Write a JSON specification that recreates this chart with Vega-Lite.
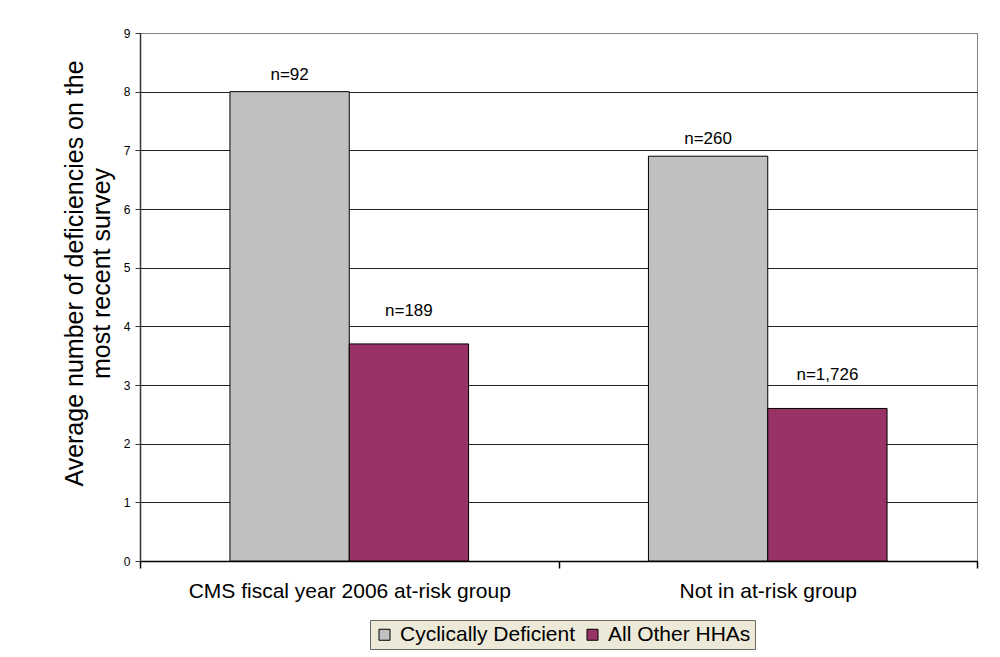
{
  "$schema": "https://vega.github.io/schema/vega-lite/v6.json",
  "width": 837,
  "height": 528,
  "autosize": {"type": "none"},
  "padding": {"left": 140, "top": 33, "right": 23, "bottom": 96},
  "background": "white",
  "config": {
    "font": "Liberation Sans",
    "view": {"stroke": "#808080", "strokeWidth": 1}
  },
  "data": {
    "values": [
      {"group": "CMS fiscal year 2006 at-risk group", "series": "Cyclically Deficient", "value": 8.0, "label": "n=92"},
      {"group": "CMS fiscal year 2006 at-risk group", "series": "All Other HHAs", "value": 3.7, "label": "n=189"},
      {"group": "Not in at-risk group", "series": "Cyclically Deficient", "value": 6.9, "label": "n=260"},
      {"group": "Not in at-risk group", "series": "All Other HHAs", "value": 2.6, "label": "n=1,726"}
    ]
  },
  "encoding": {
    "x": {
      "field": "group",
      "type": "nominal",
      "sort": null,
      "scale": {"paddingInner": 0, "paddingOuter": 0},
      "axis": {
        "title": null,
        "labelAngle": 0,
        "labelFontSize": 21,
        "labelLimit": 0,
        "labelColor": "#000000",
        "labelPadding": 12,
        "tickBand": "extent",
        "tickSize": 7,
        "tickColor": "#000000",
        "tickWidth": 1.5,
        "domainColor": "#000000",
        "domainWidth": 1.5,
        "grid": false
      }
    },
    "xOffset": {
      "field": "series",
      "type": "nominal",
      "sort": ["Cyclically Deficient", "All Other HHAs"],
      "scale": {"paddingInner": 0, "paddingOuter": 0.754}
    },
    "y": {
      "field": "value",
      "type": "quantitative",
      "scale": {"domain": [0, 9], "nice": false},
      "axis": {
        "title": ["Average number of deficiencies on the", "most recent survey"],
        "titleFontSize": 25,
        "titleFontWeight": "normal",
        "titleColor": "#000000",
        "titleLineHeight": 27,
        "titleBaseline": "middle",
        "titleAngle": -90,
        "titleX": -66,
        "titleY": 240,
        "titleLimit": 0,
        "values": [0, 1, 2, 3, 4, 5, 6, 7, 8, 9],
        "labelFontSize": 12,
        "labelColor": "#000000",
        "labelPadding": 5,
        "tickSize": 5,
        "tickColor": "#333333",
        "domainColor": "#333333",
        "domainWidth": 1.5,
        "grid": true,
        "gridColor": {"condition": {"test": "datum.value == 9", "value": "#808080"}, "value": "#222222"},
        "gridWidth": 1,
        "gridOpacity": 1
      }
    }
  },
  "layer": [
    {
      "mark": {"type": "bar", "stroke": "#000000", "strokeWidth": 1},
      "encoding": {
        "color": {
          "field": "series",
          "type": "nominal",
          "sort": ["Cyclically Deficient", "All Other HHAs"],
          "scale": {"domain": ["Cyclically Deficient", "All Other HHAs"], "range": ["#C0C0C0", "#993366"]},
          "legend": {
            "title": null,
            "orient": "none",
            "direction": "horizontal",
            "legendX": 230,
            "legendY": 587,
            "fillColor": "#ECE9D8",
            "strokeColor": "#666666",
            "padding": 4,
            "labelFontSize": 21,
            "labelLimit": 0,
            "labelColor": "#000000",
            "labelOffset": 5,
            "columnPadding": 6,
            "symbolType": "square",
            "symbolSize": 121,
            "symbolStrokeColor": "#000000",
            "symbolStrokeWidth": 1,
            "symbolOpacity": 1
          }
        }
      }
    },
    {
      "transform": [{"filter": "datum.series == 'Cyclically Deficient'"}],
      "mark": {"type": "text", "fontSize": 17, "baseline": "middle", "dy": -17, "color": "#000000"},
      "encoding": {"text": {"field": "label"}}
    },
    {
      "transform": [{"filter": "datum.series == 'All Other HHAs'"}],
      "mark": {"type": "text", "fontSize": 17, "baseline": "middle", "dy": -33, "color": "#000000"},
      "encoding": {"text": {"field": "label"}}
    }
  ]
}
